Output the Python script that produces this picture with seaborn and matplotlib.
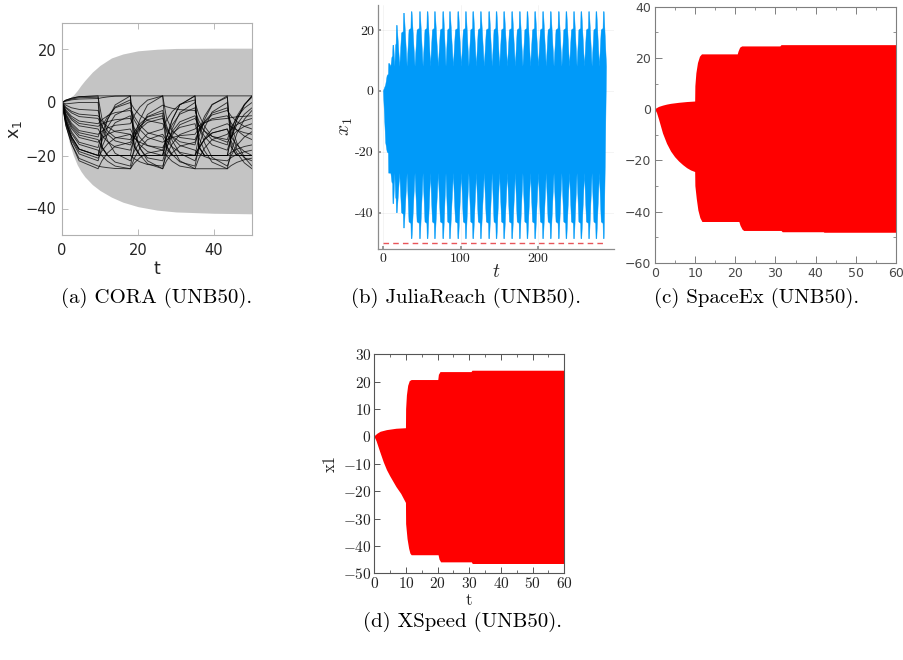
import numpy as np
import pandas as pd
import matplotlib
matplotlib.use("Agg")
import matplotlib.pyplot as plt
import seaborn as sns
from matplotlib.ticker import FuncFormatter, MultipleLocator

sns.set_theme(style="white")
plt.rcParams["font.family"] = ["DejaVu Sans"]
plt.rcParams["mathtext.fontset"] = "cm"

# ---------------- (a) CORA ----------------
cora_t = [0, 1, 2.5, 4.5, 9.5, 10.5, 12, 14, 18, 19, 20.5, 22.5, 26.5, 27.5, 29, 31,
          35, 36, 37.5, 39.5, 43.5, 44.5, 46, 48, 50]
cora_runs = [
    [0, 0.9, 1.6, 2.2, 2.5, 2.5, 2.5, 2.5, 2.5, 2.5, 2.5, 2.5, 2.5, 2.5, 2.5, 2.5, 2.5, 2.5, 2.5, 2.5, 2.5, 2.5, 2.5, 2.5, 2.5],
    [0, 0.9, 1.6, 2.2, 2.5, -16.6, -20, -20, -20, -13.2, -6.5, -0.9, 2.5, -16.6, -20, -20, -20, -13.2, -6.5, -0.9, 2.5, -16.6, -20, -20, -20],
    [0, -7, -13, -17.6, -20, -13.2, -6.5, -0.9, 2.5, -16.6, -20, -20, -20, -13.2, -6.5, -0.9, 2.5, -16.6, -20, -20, -20, -13.2, -6.5, -0.9, 2.5],
    [0, -7, -13, -17.6, -20, -20, -20, -20, -20, -20, -20, -20, -20, -20, -20, -20, -20, -20, -20, -20, -20, -20, -20, -20, -20],
    [0, -7.7, -14.3, -19.4, -22, -16.9, -11.8, -7.6, -5, -11, -17, -22, -25, -17.5, -10, -3.8, 0, -4.5, -9, -12.8, -15, -12.9, -10.8, -9, -8],
    [0, -5.3, -9.8, -13.2, -15, -13.5, -12, -10.8, -10, -13, -16, -18.5, -20, -15.5, -11, -7.3, -5, -8.9, -12.8, -16, -18, -13.2, -8.4, -4.4, -2],
    [0, -3.5, -6.5, -8.8, -10, -12.4, -14.8, -16.8, -18, -13.5, -9, -5.3, -3, -8.7, -14.4, -19.2, -22, -17.8, -13.6, -10.1, -8, -9.2, -10.4, -11.4, -12],
    [0, -1.8, -3.3, -4.4, -5, -7.1, -9.2, -11, -12, -13.5, -15, -16.3, -17, -14.3, -11.6, -9.4, -8, -13.1, -18.2, -22.5, -25, -18.4, -11.8, -6.3, -3],
    [0, -4.6, -8.5, -11.4, -13, -9.1, -5.2, -2, 0, -2.4, -4.8, -6.8, -8, -10.4, -12.8, -14.8, -16, -10.6, -5.2, -0.7, 2, -16.7, -20, -20, -20],
    [0, -6.3, -11.7, -15.8, -18, -20.1, -22.2, -24, -25, -21.1, -17.2, -14, -12, -14.4, -16.8, -18.8, -20, -17, -14, -11.5, -10, -14.5, -19, -22.8, -25],
    [0, -2.8, -5.2, -7, -8, -6.5, -5, -3.8, -3, -6.6, -10.2, -13.2, -15, -14.1, -13.2, -12.5, -12, -9.9, -7.8, -6.1, -5, -7.7, -10.4, -12.7, -14],
    [0, -8.8, -15.5, -22, -25, -22, -19, -16.5, -15, -12, -9, -6.5, -5, -11, -17, -22, -25, -21.1, -17.2, -14, -12, -10.2, -8.4, -6.9, -6],
    [0, -1, -2, -2.6, -3, -8.7, -14.4, -19.2, -22, -18.4, -14.8, -11.8, -10, -6.7, -3.4, -0.7, 1, -16.9, -20, -20, -20, -18.8, -17.6, -16.6, -16],
    [0, -4.2, -7.8, -10.6, -12, -10.8, -9.6, -8.6, -8, -4.9, -1.7, 0.9, 2.5, -5.8, -10.7, -13.2, -14, -10.7, -7.4, -4.7, -3, -5.1, -7.2, -9, -10],
    [0, -6, -11, -15, -17, -11.6, -6.2, -1.7, 1, -10.5, -17.4, -20.9, -22, -17.2, -12.4, -8.4, -6, -8.4, -10.8, -12.8, -14, -9.8, -5.6, -2.1, 0],
    [0, -2.1, -3.9, -5.3, -6, -9, -12, -14.5, -16, -13, -10, -7.5, -6, -9.6, -13.2, -16.2, -18, -19.2, -20.4, -21.4, -22, -20.8, -19.6, -18.6, -18],
    [0, -7, -13, -17.6, -20, -14.6, -9.2, -4.7, -2, -5.3, -8.6, -11.4, -13, -16.3, -19.6, -22.4, -24, -16.8, -9.6, -3.6, 0, -11, -17.6, -20.9, -22],
    [0, -0.5, -0.3, 0, 0, -17, -20, -20, -20, -21.2, -22.4, -23.4, -24, -19.8, -15.6, -12.1, -10, -8.8, -7.6, -6.6, -6, -5.7, -5.4, -5.2, -5],
    [0, -4.9, -9.1, -12.3, -14, -17, -20, -22.5, -24, -17.1, -10.2, -4.5, -1, -1.6, -2.2, -2.7, -3, -6.9, -10.8, -14.1, -16, -10.6, -5.2, -0.7, 2],
    [0, -3.2, -5.9, -7.9, -9, -8.1, -7.2, -6.5, -6, -9.6, -13.2, -16.2, -18, -13.2, -8.4, -4.4, -2, -8.6, -15.2, -20.7, -24, -20.1, -16.2, -13, -11],
    [0, -7.4, -13.7, -18.5, -21, -18.3, -15.6, -13.4, -12, -15.9, -19.8, -23.1, -25, -22, -19, -16.5, -15, -11.1, -7.2, -4, -2, -8.6, -15.2, -20.7, -24],
    [0, 0.7, 1.3, 1.8, 2, -6, -10.8, -13.2, -14, -11, -8, -5.5, -4, -17.6, -20, -20, -20, -17, -14, -11.5, -10, -13, -16, -18.5, -20],
    [0, 0.5, 1, 1.3, 1.5, 1.8, 2.1, 2.4, 2.5, -16.8, -20, -20, -20, -13.2, -6.5, -0.9, 2.5, -16.6, -20, -20, -20, -13.2, -6.5, -0.9, 2.5],
    [0, -8.4, -15.5, -21.1, -24, -24.3, -24.6, -24.9, -25, -22.9, -20.8, -19.1, -18, -20.1, -22.2, -24, -25, -25, -25, -25, -25, -23.8, -22.6, -21.6, -21],
]
band_t = [0, 0.5, 1, 2, 3, 4, 5, 6, 8, 10, 13, 16, 20, 25, 30, 40, 50]
band_hi = [0, 0.5, 1, 1.8, 2.8, 4.5, 6.5, 8.3, 11.5, 14, 16.8, 18.3, 19.5, 20.1, 20.4, 20.5, 20.5]
band_lo = [0, -4, -9.5, -15.5, -20, -23.5, -26, -28, -31, -33.2, -35.7, -37.6, -39.3, -40.6, -41.3, -41.8, -42]

# ---------------- (b) JuliaReach ----------------
jr_spike_t = [7.5, 13.0, 17.5, 26.8, 36.7, 47.5, 57.4, 66.9, 77.7, 86.4, 97.2, 107.1, 116.6, 126.5,
              137.3, 146.8, 156.7, 167.1, 177.0, 186.9, 196.9, 207.2, 217.1, 227.5, 237.4, 247.3,
              256.8, 266.8, 276.3, 285.8]
jr_peak_hi = [9, 15, 21.5, 25.5] + [26] * 26
jr_shoulder_hi = [5, 11, 15, 19] + [20] * 26
jr_peak_lo = [-27, -37, -40, -45] + [-48.5] * 26
jr_shoulder_lo = [-20, -30, -35, -40] + [-43] * 26
jr_notch_hi = 8
jr_notch_lo = -27
jr_end_hi = (289.3, 8)
jr_end_lo = (287.5, -27)
jr_bound = -50
jr_bound_end = 288

# ---------------- (c) SpaceEx ----------------
spx_hi_t = [0, 1, 2, 3, 4, 6, 8, 10, 10.05, 10.3, 10.7, 11.2, 11.7, 20.6, 20.8, 21.2, 21.7, 31.2, 31.5, 60]
spx_hi = [0, 0.9, 1.4, 1.8, 2.1, 2.5, 2.8, 3.0, 9, 14, 18, 20.5, 21.4, 21.4, 22.5, 24, 24.5, 24.5, 25, 25]
spx_lo_t = [0, 0.5, 1, 2, 3, 4, 5, 6, 7, 8, 9, 10, 10.05, 10.4, 10.8, 11.3, 11.8, 21.0, 21.3, 21.8,
            22.2, 31.5, 31.8, 42, 42.2, 60]
spx_lo = [0, -1.5, -4, -9.5, -13.5, -16.5, -18.7, -20.4, -21.8, -23, -23.9, -24.5, -30, -35, -39.5,
          -42.5, -44, -44, -45.5, -47, -47.5, -47.5, -48, -48, -48.2, -48.2]

# ---------------- (d) XSpeed ----------------
xsp_hi_t = [0, 1, 2, 4, 7, 10, 10.05, 10.3, 10.7, 11.2, 11.8, 20.2, 20.4, 20.9, 30.7, 31.0, 60]
xsp_hi = [0, 1.0, 1.7, 2.3, 2.8, 3.0, 10, 15, 18.5, 20.2, 20.6, 20.6, 22.5, 23.5, 23.5, 24, 24]
xsp_lo_t = [0, 0.7, 1.8, 3, 4, 5, 7, 8.5, 10, 10.05, 10.5, 11, 11.4, 11.8, 20.3, 20.6, 21.1, 30.8, 31.1, 60]
xsp_lo = [0, -1.7, -5.5, -9.5, -12.3, -14.5, -18.5, -21, -24.3, -32, -37.5, -41, -42.8, -43.4, -43.4,
          -45, -46, -46, -46.6, -46.6]

W, H = 904, 660
fig = plt.figure(figsize=(W / 100, H / 100), dpi=100)


def box(l, t, r, b):
    return fig.add_axes([l / W, 1 - b / H, (r - l) / W, (b - t) / H])


# (a)
ax = box(62, 23, 252, 235)
ax.fill_between(band_t, band_lo, band_hi, color="#c4c4c4", lw=0)
df_a = pd.DataFrame(
    [(t, v, i) for i, run in enumerate(cora_runs) for t, v in zip(cora_t, run)],
    columns=["t", "x1", "run"],
)
sns.lineplot(data=df_a, x="t", y="x1", units="run", estimator=None, sort=False,
             color="black", lw=0.65, alpha=0.75, ax=ax)
ax.set_xlim(0, 50)
ax.set_ylim(-50, 30)
ax.set_xticks([0, 20, 40])
ax.set_yticks([-40, -20, 0, 20])
ax.tick_params(direction="in", length=4, width=0.6, color="#b0b0b0", labelcolor="#262626",
               labelsize=10.5, top=True, right=True, bottom=True, left=True, pad=4)
ax.tick_params(axis="x", pad=6)
for s in ax.spines.values():
    s.set_color("#b0b0b0")
    s.set_linewidth(0.8)
ax.set_xlabel("t", fontsize=12.5, color="#262626", labelpad=1)
ax.set_ylabel("x$_1$", fontsize=12.5, color="#262626", math_fontfamily="dejavusans", labelpad=1)

# (b)
ax = box(378, 5, 614, 249)


def spiky_edge(spikes, peaks, shoulders, notch, sign):
    t, y = [0.0], [0.0]
    prev = 0.0
    for s, p, sh in zip(spikes, peaks, shoulders):
        gap = s - prev
        low = min(notch, sh - 3) if sign > 0 else max(notch, sh + 3)
        t += [s - 0.6 * gap, s - 0.35 * gap, s - 1.0, s - 0.6, s + 0.4]
        y += [low, sh, sh + 0.5 * sign, p, p]
        prev = s
    return t, y


ut, uy = spiky_edge(jr_spike_t, jr_peak_hi, jr_shoulder_hi, jr_notch_hi, 1)
lt, ly = spiky_edge(jr_spike_t, jr_peak_lo, jr_shoulder_lo, jr_notch_lo, -1)
ut.append(jr_end_hi[0]); uy.append(jr_end_hi[1])
lt.append(jr_end_lo[0]); ly.append(jr_end_lo[1])
ax.fill(ut + lt[::-1], uy + ly[::-1], color="#009af9", lw=0.3, ec="#009af9")
ax.hlines(jr_bound, 0, jr_bound_end, color="#e8555a", lw=1.0, linestyles=(0, (4, 3)))
ax.set_xlim(-7, 299)
ax.set_ylim(-51.9, 28.2)
ax.set_xticks([0, 100, 200])
ax.set_yticks([-40, -20, 0, 20])
ax.xaxis.set_major_formatter(FuncFormatter(lambda v, p: f"{v:g}"))
ax.yaxis.set_major_formatter(FuncFormatter(lambda v, p: f"{v:g}"))
ax.grid(True, color="black", alpha=0.05, lw=0.6)
ax.set_axisbelow(True)
ax.spines["top"].set_visible(False)
ax.spines["right"].set_visible(False)
for s in ("left", "bottom"):
    ax.spines[s].set_color("#8c8c8c")
    ax.spines[s].set_linewidth(0.9)
ax.tick_params(direction="in", length=2.5, color="#8c8c8c", labelcolor="#222222", labelsize=10,
               labelfontfamily="cmr10", bottom=True, left=True, pad=3)
ax.set_xlabel("$t$", fontsize=14, labelpad=-2)
ax.set_ylabel("$x_1$", fontsize=14, labelpad=0)

# (c)
ax = box(655, 6.7, 896, 263)
ax.fill(spx_hi_t + spx_lo_t[::-1], spx_hi + spx_lo[::-1], color="#ff0000", lw=0)
ax.set_xlim(0, 60)
ax.set_ylim(-60, 40)
ax.xaxis.set_major_locator(MultipleLocator(10))
ax.xaxis.set_minor_locator(MultipleLocator(5))
ax.yaxis.set_major_locator(MultipleLocator(20))
ax.yaxis.set_minor_locator(MultipleLocator(10))
ax.tick_params(which="both", direction="in", color="#7f7f7f", top=True, right=True,
               bottom=True, left=True)
ax.tick_params(which="major", length=5, width=0.7, labelsize=9, labelcolor="#484848", pad=3)
ax.tick_params(which="minor", length=2.5, width=0.6)
for s in ax.spines.values():
    s.set_color("#7f7f7f")
    s.set_linewidth(0.8)

# (d)
ax = box(374.3, 354.3, 564.3, 573.3)
ax.fill(xsp_hi_t + xsp_lo_t[::-1], xsp_hi + xsp_lo[::-1], color="#ff0000", lw=0)
ax.set_xlim(0, 60)
ax.set_ylim(-50, 30)
ax.xaxis.set_major_locator(MultipleLocator(10))
ax.xaxis.set_minor_locator(MultipleLocator(5))
ax.yaxis.set_major_locator(MultipleLocator(10))
ax.xaxis.set_major_formatter(FuncFormatter(lambda v, p: f"${v:g}$"))
ax.yaxis.set_major_formatter(FuncFormatter(lambda v, p: f"${v:g}$"))
ax.tick_params(which="both", direction="in", color="#555555", top=True, right=True,
               bottom=True, left=True)
ax.tick_params(which="major", length=4, width=0.7, labelsize=11, labelcolor="#222222", pad=2)
ax.tick_params(which="minor", length=2.5, width=0.6)
for s in ax.spines.values():
    s.set_color("#555555")
    s.set_linewidth(0.8)
ax.set_xlabel("t", fontsize=12, family="cmr10", labelpad=1)
ax.set_ylabel("x1", fontsize=12, family="cmr10", labelpad=4)

# captions
cap_kw = dict(ha="center", va="center", family="cmr10", color="black", fontsize=15)
fig.text(157 / W, 1 - 298 / H, "(a) CORA (UNB50).", **cap_kw)
fig.text(466 / W, 1 - 298 / H, "(b) JuliaReach (UNB50).", **cap_kw)
fig.text(757 / W, 1 - 298 / H, "(c) SpaceEx (UNB50).", **cap_kw)
fig.text(463 / W, 1 - 622 / H, "(d) XSpeed (UNB50).", **cap_kw)

fig.savefig("out.png", dpi=100)
